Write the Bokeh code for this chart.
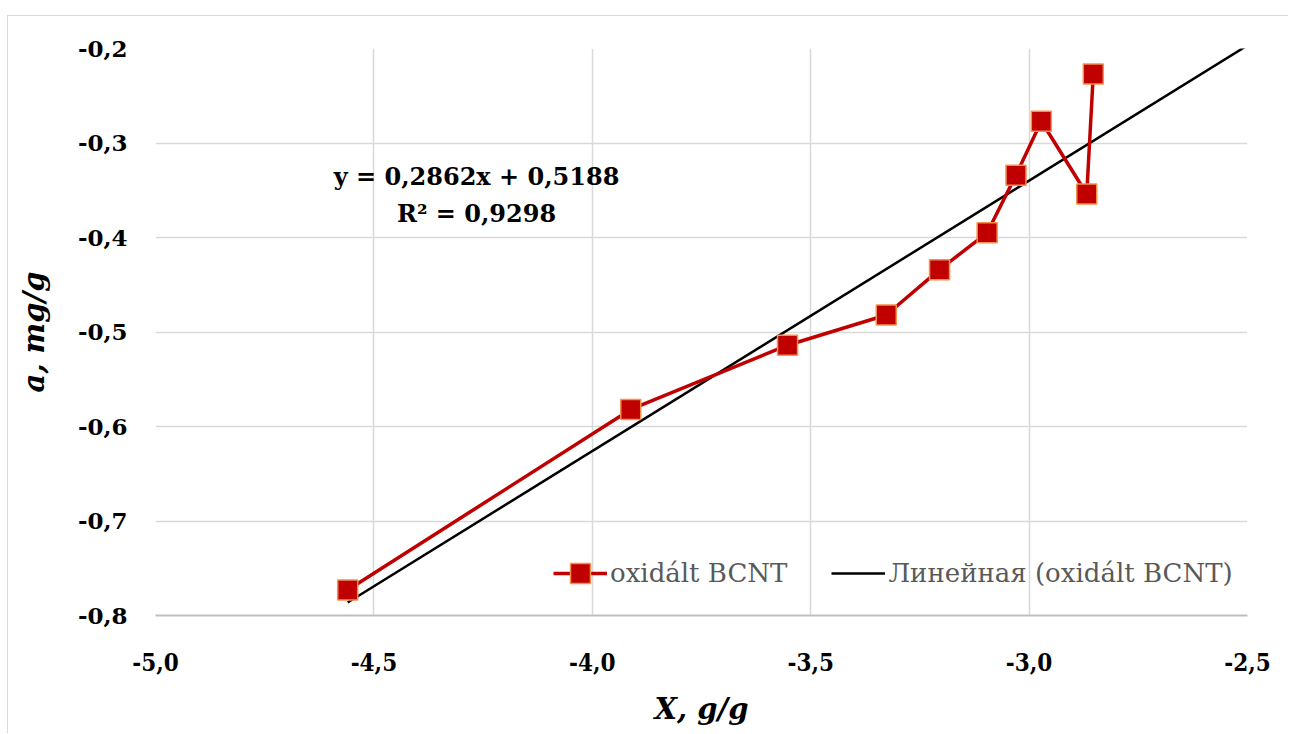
from bokeh.plotting import figure
from bokeh.models import (Range1d, FixedTicker, CustomJSTickFormatter, Legend, LegendItem,
                          Label, ColumnDataSource)
from bokeh.embed import file_html
from bokeh.resources import INLINE

# data
x_vals = [-4.560, -3.912, -3.553, -3.327, -3.205, -3.096, -3.030, -2.972, -2.868, -2.853]
a_vals = [-0.773, -0.582, -0.514, -0.482, -0.434, -0.395, -0.334, -0.277, -0.354, -0.227]
slope = 0.2862
intercept = 0.5188
r2 = 0.9298
x_ticks = [-5.0, -4.5, -4.0, -3.5, -3.0, -2.5]
y_ticks = [-0.8, -0.7, -0.6, -0.5, -0.4, -0.3, -0.2]
series_name = "oxidált BCNT"
trend_name = "Линейная (oxidált BCNT)"

FONT = "DejaVu Serif"

p = figure(width=1281, height=718, output_backend="svg", toolbar_location=None,
           x_range=Range1d(x_ticks[0], x_ticks[-1]), y_range=Range1d(y_ticks[0], y_ticks[-1]),
           min_border_left=147, min_border_right=42, min_border_top=32, min_border_bottom=119)
p.styles = {"margin-left": "7px", "margin-top": "15px",
            "border-left": "1px solid #D9D9D9", "border-top": "1px solid #D9D9D9"}
p.outline_line_color = None
p.background_fill_color = "white"
p.border_fill_color = "white"

fmt = CustomJSTickFormatter(code="return tick.toFixed(1).replace('.', ',');")
for ax, ticks in ((p.xaxis[0], x_ticks), (p.yaxis[0], y_ticks)):
    ax.ticker = FixedTicker(ticks=ticks)
    ax.formatter = fmt
    ax.major_tick_line_color = None
    ax.minor_tick_line_color = None
    ax.major_label_text_font = FONT
    ax.major_label_text_font_style = "bold"
    ax.major_label_text_font_size = "23px"
    ax.major_label_text_color = "black"
    ax.axis_label_text_font = FONT
    ax.axis_label_text_font_style = "bold italic"
    ax.axis_label_text_font_size = "29px"
    ax.axis_label_text_color = "black"
p.xaxis.major_label_text_font = "DejaVu Serif Condensed"
p.xaxis.major_label_text_font_size = "24px"

p.xaxis.axis_label = "X, g/g"
p.yaxis.axis_label = "a, mg/g"
p.xaxis.axis_line_color = "#BFBFBF"
p.xaxis.axis_line_width = 2
p.yaxis.axis_line_color = None
p.xaxis.major_label_standoff = 31
p.yaxis.major_label_standoff = 22
p.xaxis.axis_label_standoff = 18
p.yaxis.axis_label_standoff = 24

p.xgrid.ticker = FixedTicker(ticks=x_ticks)
p.ygrid.ticker = FixedTicker(ticks=y_ticks)
for g in (p.xgrid[0], p.ygrid[0]):
    g.grid_line_color = "#D9D9D9"
    g.grid_line_width = 1.5

# trendline
tx = [min(x_vals), x_ticks[-1]]
ty = [slope * v + intercept for v in tx]
trend = p.line(tx, ty, line_color="black", line_width=2.5)

src = ColumnDataSource(dict(x=x_vals, y=a_vals))
ln = p.line("x", "y", source=src, line_color="#C00000", line_width=3.5)
sc = p.scatter("x", "y", source=src, marker="square", size=20,
               fill_color="#C00000", line_color="#F4914A", line_width=1.5)

legend = Legend(items=[LegendItem(label=series_name, renderers=[ln, sc]),
                       LegendItem(label=trend_name, renderers=[trend])],
                orientation="horizontal", location=(398, 17),
                glyph_width=54, glyph_height=50, label_standoff=3, spacing=44,
                padding=0, margin=0, background_fill_alpha=0, border_line_color=None,
                label_text_font=FONT, label_text_font_size="26px", label_text_color="#595959")
p.add_layout(legend)

eq1 = f"y = {slope:.4f}x + {intercept:.4f}".replace(".", ",")
eq2 = f"R² = {r2:.4f}".replace(".", ",")
for txt, yy in ((eq1, -0.3354), (eq2, -0.3743)):
    p.add_layout(Label(x=-4.265, y=yy, text=txt, text_align="center", text_baseline="alphabetic",
                       text_font=FONT, text_font_style="bold", text_font_size="24px",
                       text_color="black"))

open("out.html", "w").write(file_html(p, INLINE))
